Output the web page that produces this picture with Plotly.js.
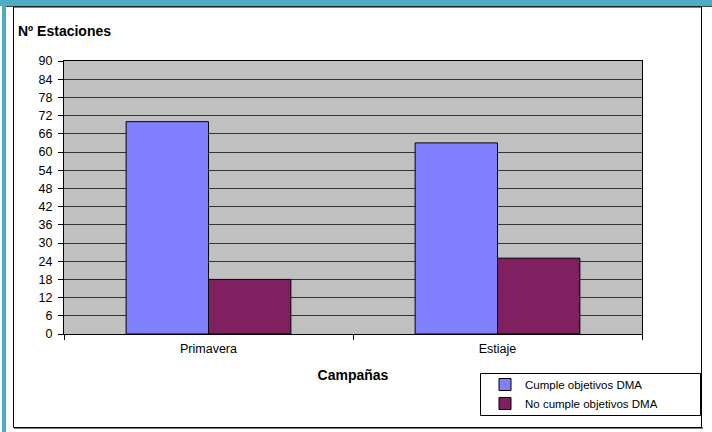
<!DOCTYPE html>
<html>
<head>
<meta charset="utf-8">
<script src="https://cdn.plot.ly/plotly-3.0.1.min.js"></script>
<style>html,body{margin:0;padding:0;background:#fff;width:712px;height:432px;overflow:hidden;}#chart{width:712px;height:432px;overflow:hidden;}</style>
</head>
<body>
<div id="chart"></div>
<script>
const campaigns = ["Primavera", "Estiaje"];
const cumple = [70, 63];
const noCumple = [18, 25];
const seriesNames = ["Cumple objetivos DMA", "No cumple objetivos DMA"];
const yTicks = [0, 6, 12, 18, 24, 30, 36, 42, 48, 54, 60, 66, 72, 78, 84, 90];

const W = 712, H = 432;
const L = 64, R = 642, T = 61, B = 334;
const xp = px => (px - L) / (R - L);
const yp = py => (B - py) / (B - T);
const FONT = "Arial, 'Liberation Sans', sans-serif";

const traces = [
  {type: "bar", name: seriesNames[0], x: campaigns, y: cumple,
   marker: {color: "#8080FF", line: {color: "#000", width: 1}}, hoverinfo: "x+y"},
  {type: "bar", name: seriesNames[1], x: campaigns, y: noCumple,
   marker: {color: "#802060", line: {color: "#000", width: 1}}, hoverinfo: "x+y"}
];

const shapes = [
  // teal page band & left bar
  {type: "rect", xref: "paper", yref: "paper", x0: xp(0), x1: xp(712), y0: yp(0), y1: yp(6), fillcolor: "#4BACC6", line: {width: 0}, layer: "below"},
  {type: "line", xref: "paper", yref: "paper", x0: xp(6), x1: xp(712), y0: yp(6.5), y1: yp(6.5), line: {color: "#404040", width: 1}},
  {type: "rect", xref: "paper", yref: "paper", x0: xp(2), x1: xp(6), y0: yp(0), y1: yp(432), fillcolor: "#4BACC6", line: {width: 0}, layer: "below"},
  // chart frame
  {type: "line", xref: "paper", yref: "paper", x0: xp(14), x1: xp(703), y0: yp(428), y1: yp(428), line: {color: "#808080", width: 2}},
  {type: "rect", xref: "paper", yref: "paper", x0: xp(13.5), x1: xp(701.5), y0: yp(7), y1: yp(427.5), line: {color: "#000", width: 1}},
  // legend box
  {type: "rect", xref: "paper", yref: "paper", x0: xp(480.5), x1: xp(700.5), y0: yp(373.5), y1: yp(415.5), fillcolor: "#fff", line: {color: "#000", width: 1}, layer: "below"}
];

const layout = {
  width: W, height: H,
  margin: {l: L, r: W - R, t: T, b: H - B, pad: 0, autoexpand: false},
  paper_bgcolor: "#fff",
  plot_bgcolor: "#C0C0C0",
  font: {family: FONT, size: 12, color: "#000"},
  barmode: "group",
  bargap: 0.43,
  bargroupgap: 0,
  showlegend: true,
  legend: {
    x: xp(485), y: yp(370), xanchor: "left", yanchor: "top",
    bgcolor: "rgba(0,0,0,0)", borderwidth: 0,
    font: {family: FONT, size: 11.5, color: "#000"},
    tracegroupgap: 0, itemwidth: 30, traceorder: "normal"
  },
  xaxis: {
    type: "category",
    automargin: false,
    tickson: "boundaries",
    ticks: "outside", ticklen: 5, tickcolor: "#000",
    ticklabelstandoff: 3,
    showline: true, linecolor: "#000", linewidth: 1, mirror: true,
    showgrid: false, zeroline: false,
    tickfont: {family: FONT, size: 12.5, color: "#000"},
    title: {text: "<b>Campañas</b>", font: {family: FONT, size: 14, color: "#000"}, standoff: 15}
  },
  yaxis: {
    range: [0, 90],
    automargin: false,
    tickvals: yTicks,
    ticktext: yTicks.map(String),
    ticks: "outside", ticklen: 5, tickcolor: "#000",
    ticklabelstandoff: 3,
    showline: true, linecolor: "#000", linewidth: 1, mirror: true,
    showgrid: true, gridcolor: "#333", gridwidth: 1,
    zeroline: false,
    tickfont: {family: FONT, size: 12.5, color: "#000"}
  },
  annotations: [
    {text: "<b>Nº Estaciones</b>", xref: "paper", yref: "paper", x: xp(16), y: yp(31),
     xanchor: "left", yanchor: "middle", showarrow: false,
     font: {family: FONT, size: 14, color: "#000"}}
  ],
  shapes: shapes
};

Plotly.newPlot("chart", traces, layout, {displayModeBar: false, staticPlot: true});
</script>
</body>
</html>
